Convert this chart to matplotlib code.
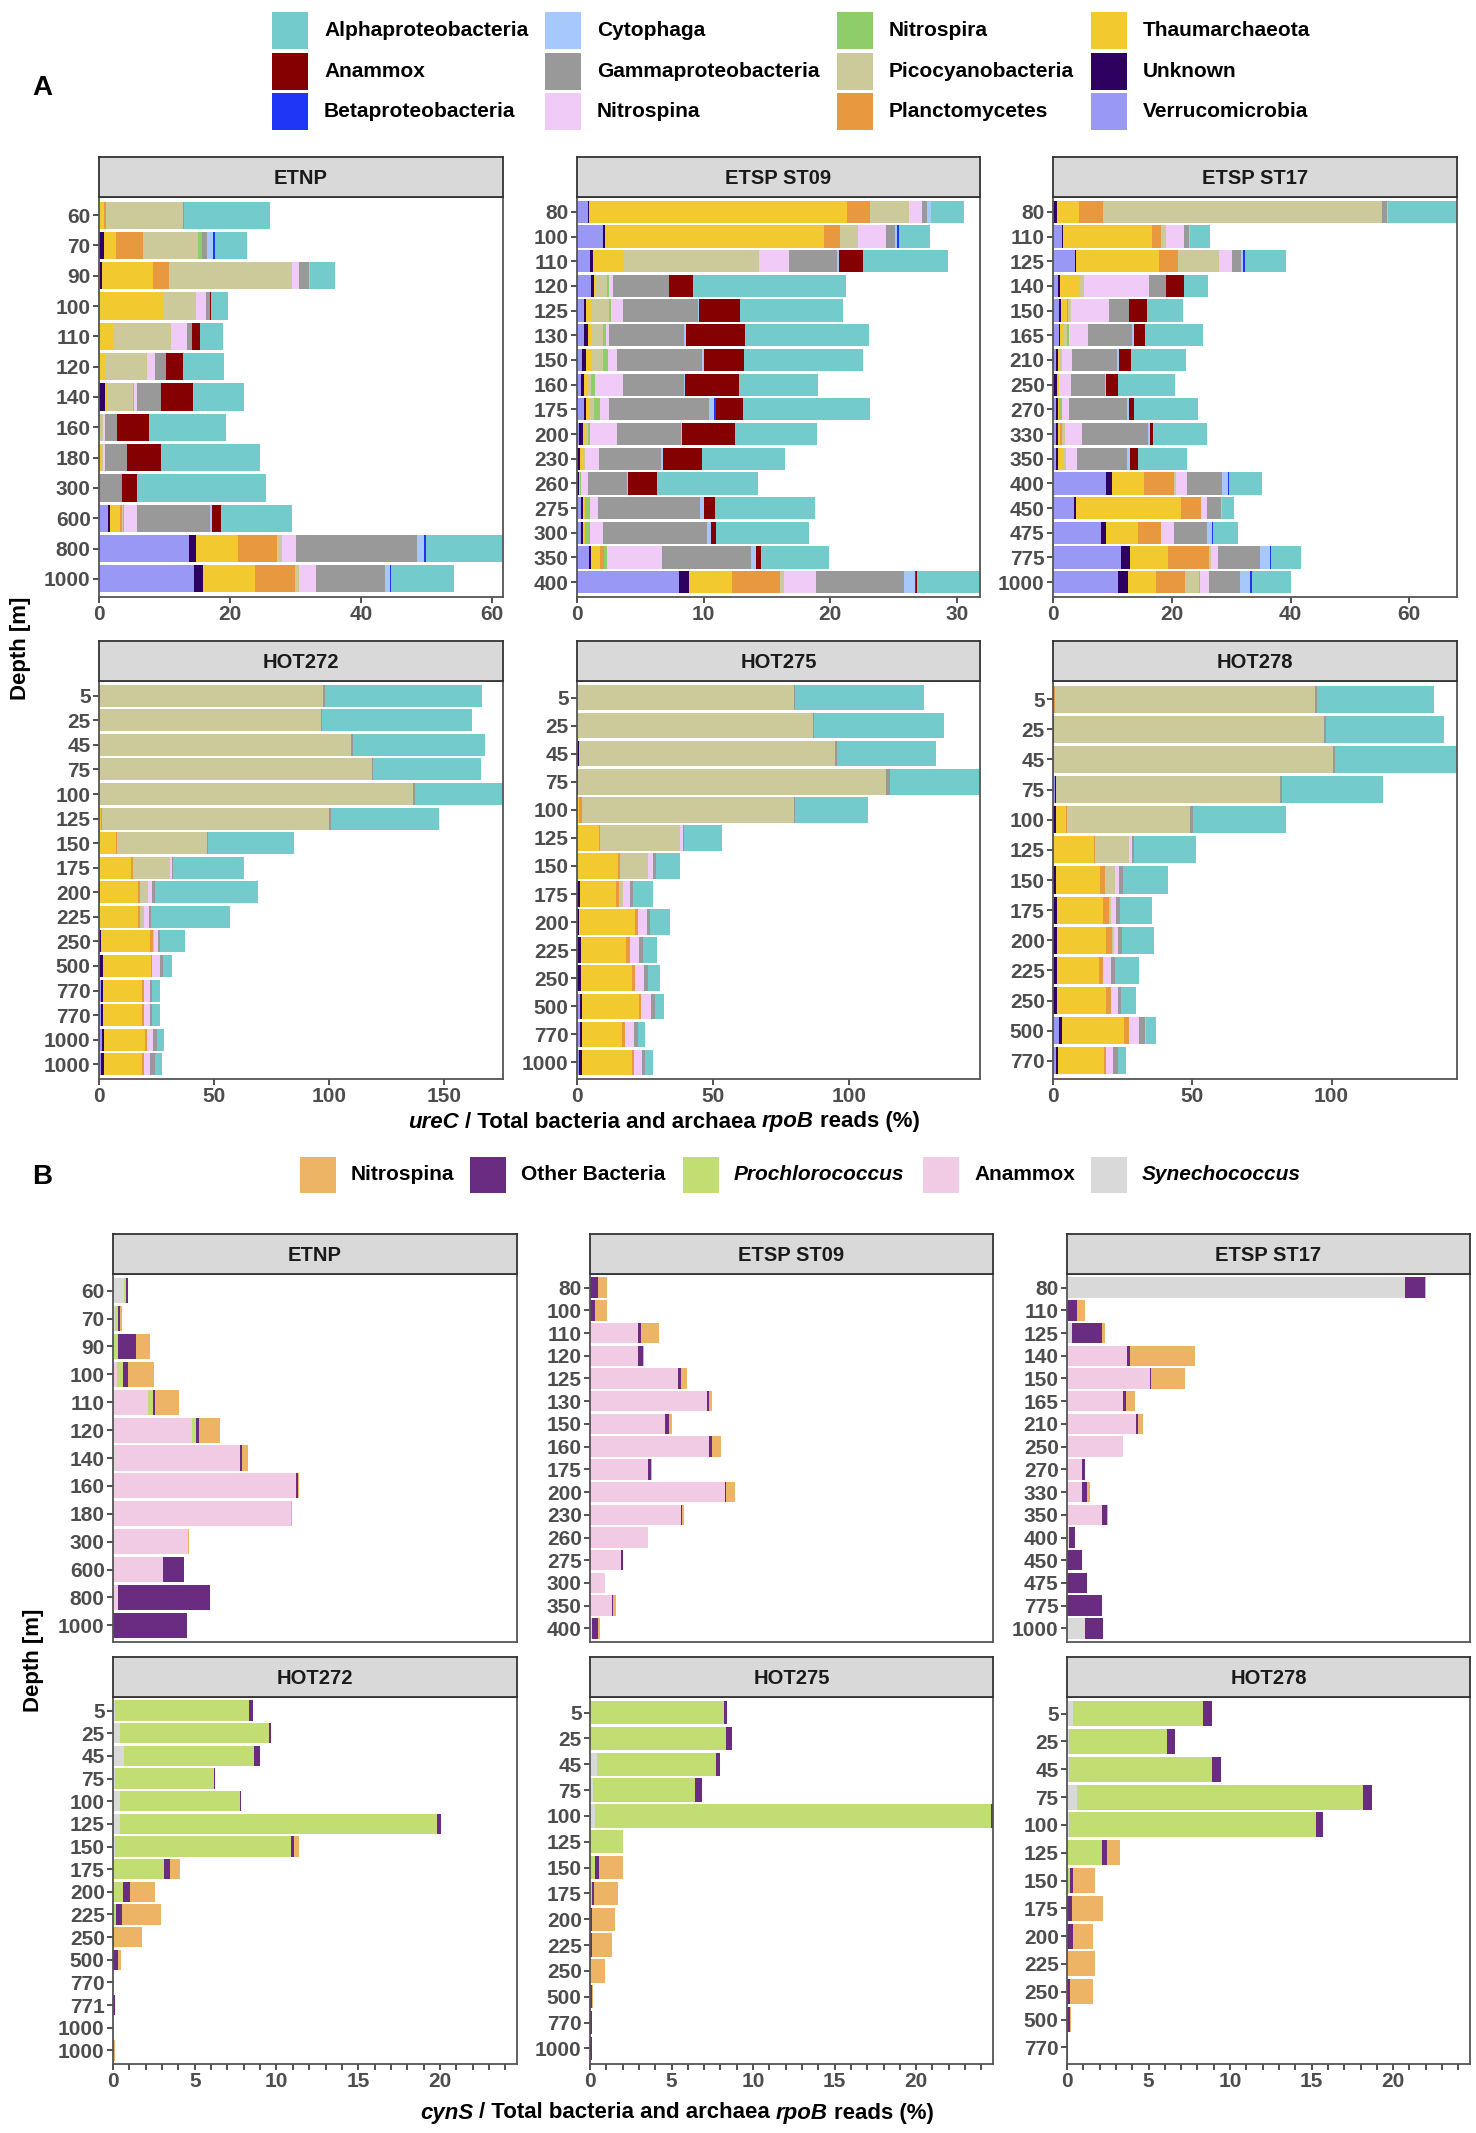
import numpy as np
import matplotlib
matplotlib.use("Agg")
import matplotlib.pyplot as plt
from matplotlib.patches import Rectangle

plt.rcParams['font.family'] = ['Liberation Sans', 'DejaVu Sans']
plt.rcParams['font.weight'] = 'bold'

# ---------------- data: panel A (ureC) ----------------
# stacking order, left -> right
a_groups = ["Verrucomicrobia", "Unknown", "Thaumarchaeota", "Planctomycetes",
            "Picocyanobacteria", "Nitrospira", "Nitrospina", "Gammaproteobacteria",
            "Cytophaga", "Betaproteobacteria", "Anammox", "Alphaproteobacteria"]
a_colors = ["#9999F5", "#2E0060", "#F2C92F", "#E8983E", "#CCCA9A", "#8ECD6A",
            "#F0CBF8", "#999999", "#A6C8FA", "#2036F7", "#850000", "#74CBCB"]

etnp_depths = ["60", "70", "90", "100", "110", "120", "140", "160", "180", "300", "600", "800", "1000"]
etnp_ureC = [
    [0, 0, 0.7, 0.4, 11.65, 0, 0, 0.16, 0, 0, 0, 13.2],
    [0, 0.76, 1.78, 4.12, 8.5, 0.5, 0.1, 0.66, 1.0, 0.2, 0, 5.0],
    [0.2, 0.3, 7.8, 2.34, 18.8, 0, 1.07, 1.5, 0.15, 0, 0, 3.77],
    [0, 0, 9.8, 0, 5.04, 0, 1.53, 0.5, 0, 0, 0.2, 2.55],
    [0, 0, 2.34, 0, 8.7, 0, 2.44, 0.76, 0, 0, 1.12, 3.56],
    [0, 0, 0.97, 0, 6.31, 0, 1.32, 1.58, 0, 0, 2.65, 6.21],
    [0, 0.97, 0.25, 0, 3.97, 0.15, 0.46, 3.72, 0, 0, 4.83, 7.79],
    [0, 0, 0, 0, 0.6, 0, 0.35, 1.8, 0, 0, 4.88, 11.7],
    [0, 0, 0.3, 0, 0.35, 0, 0.3, 3.36, 0, 0, 5.14, 15.06],
    [0, 0, 0, 0, 0, 0, 0, 3.56, 0, 0, 2.19, 19.7],
    [1.32, 0.3, 1.63, 0.25, 0.2, 0.15, 2.0, 11.04, 0.4, 0, 1.37, 10.84],
    [13.74, 1.12, 6.41, 5.9, 0.8, 0, 2.14, 18.42, 1.0, 0.3, 0, 11.8],
    [14.55, 1.37, 7.94, 6.0, 0.6, 0, 2.7, 10.43, 0.76, 0.25, 0, 9.6],
]

st09_depths = ["80", "100", "110", "120", "125", "130", "150", "160", "175", "200",
               "230", "260", "275", "300", "350", "400"]
st09_ureC = [
    [0.84, 0.1, 20.42, 1.79, 3.1, 0, 1.0, 0.42, 0.26, 0, 0, 2.63],
    [2.05, 0.13, 17.3, 1.26, 1.42, 0, 2.23, 0.74, 0.18, 0.16, 0, 2.42],
    [1.05, 0.18, 2.45, 0.05, 10.63, 0, 2.42, 3.74, 0.16, 0, 1.89, 6.71],
    [1.1, 0.21, 0.1, 0, 0.95, 0.18, 0.29, 4.45, 0, 0, 1.87, 12.1],
    [0.53, 0.21, 0.37, 0, 1.45, 0.16, 0.92, 5.89, 0.13, 0, 3.18, 8.13],
    [0.53, 0.32, 0.26, 0, 0.92, 0.29, 0.21, 5.95, 0.1, 0, 4.66, 9.82],
    [0.42, 0.32, 0.45, 0, 0.87, 0.37, 0.74, 6.74, 0.16, 0, 3.1, 9.4],
    [0.34, 0.18, 0.32, 0, 0.26, 0.32, 2.24, 4.76, 0.13, 0, 4.21, 6.26],
    [0.53, 0.21, 0.26, 0, 0.37, 0.47, 0.71, 7.89, 0.42, 0.13, 2.16, 10.0],
    [0.16, 0.29, 0.29, 0, 0.1, 0.21, 2.08, 5.05, 0.1, 0, 4.16, 6.5],
    [0, 0.26, 0.21, 0, 0.18, 0, 1.08, 4.87, 0.16, 0, 3.1, 6.58],
    [0, 0.16, 0.1, 0, 0, 0.08, 0.5, 3.1, 0.1, 0, 2.26, 8.03],
    [0.34, 0.16, 0.16, 0, 0, 0.34, 0.63, 8.1, 0.29, 0, 0.89, 7.92],
    [0.34, 0.1, 0.21, 0, 0, 0.34, 1.05, 8.21, 0.32, 0, 0.37, 7.39],
    [0.95, 0.18, 0.71, 0.32, 0, 0.18, 4.39, 7.03, 0.39, 0, 0.39, 5.39],
    [8.05, 0.79, 3.42, 3.79, 0.32, 0, 2.47, 6.95, 0.89, 0.1, 0.1, 4.95],
]

st17_depths = ["80", "110", "125", "140", "150", "165", "210", "250", "270", "330",
               "350", "400", "450", "475", "775", "1000"]
st17_ureC = [
    [0, 0.62, 3.76, 4.04, 47.0, 0, 0, 0.84, 0.22, 0, 0, 11.55],
    [1.46, 0.17, 15.08, 1.46, 0.79, 0, 3.14, 0.79, 0.17, 0, 0, 3.31],
    [3.76, 0.17, 13.85, 3.2, 6.9, 0, 2.19, 1.63, 0.34, 0.28, 0, 6.95],
    [0.9, 0.28, 3.25, 0, 0.84, 0, 10.94, 2.8, 0, 0, 2.97, 4.2],
    [1.07, 0.28, 0.95, 0.22, 0.56, 0, 6.28, 3.48, 0, 0, 3.03, 6.0],
    [0.95, 0.28, 0.62, 0, 0.45, 0.34, 3.31, 7.4, 0.28, 0, 1.79, 9.81],
    [0.5, 0.34, 0.22, 0, 0.39, 0, 1.79, 7.57, 0.22, 0, 2.13, 9.25],
    [0, 0.62, 0.34, 0, 0, 0, 2.13, 5.61, 0.28, 0, 2.02, 9.53],
    [0.5, 0.28, 0.28, 0, 0, 0.39, 1.18, 9.87, 0.34, 0, 0.84, 10.77],
    [0.56, 0.34, 0.28, 0.39, 0.39, 0, 2.97, 11.05, 0.39, 0, 0.39, 9.14],
    [0.56, 0.34, 0.84, 0, 0.39, 0, 1.96, 8.41, 0.39, 0, 1.46, 8.19],
    [8.86, 1.01, 5.38, 5.16, 0.22, 0, 1.96, 5.89, 0.95, 0.17, 0, 5.66],
    [3.59, 0.28, 17.61, 3.37, 0, 0, 1.01, 2.36, 0.28, 0, 0, 1.96],
    [8.02, 0.9, 5.44, 3.87, 0, 0, 2.13, 5.55, 0.84, 0.22, 0, 4.26],
    [11.5, 1.46, 6.34, 7.01, 0.22, 0, 1.18, 7.12, 1.63, 0.28, 0, 4.94],
    [10.94, 1.63, 4.82, 4.88, 2.24, 0.17, 1.51, 5.38, 1.68, 0.28, 0, 6.62],
]

hot272_depths = ["5", "25", "45", "75", "100", "125", "150", "175", "200", "225", "250",
                 "500", "770", "770", "1000", "1000"]
hot272_ureC = [
    [0, 0, 0, 0.4, 97.0, 0, 0, 0.7, 0, 0, 0, 68.5],
    [0, 0, 0, 0.3, 96.1, 0, 0, 0.7, 0, 0, 0, 65.0],
    [0, 0, 0, 0.3, 109.4, 0, 0, 0.6, 0, 0, 0, 57.7],
    [0, 0, 0, 0.3, 118.3, 0, 0, 0.7, 0, 0, 0, 46.8],
    [0, 0, 0, 0, 136.7, 0, 0, 0.7, 0, 0, 0, 38.3],
    [0, 0, 0.7, 0.7, 98.6, 0, 0, 0.9, 0, 0, 0, 46.8],
    [0, 0, 7.25, 0.7, 38.9, 0, 0, 0.7, 0, 0, 0, 37.3],
    [0, 0, 13.9, 0.7, 16.1, 0, 1.16, 0.4, 0, 0, 0, 30.6],
    [0, 0.6, 16.5, 0.9, 3.2, 0, 1.74, 1.3, 0, 0, 0, 44.9],
    [0, 0, 16.8, 1.16, 1.45, 0, 2.17, 1.16, 0, 0, 0, 34.1],
    [0, 0.7, 21.6, 1.16, 0.4, 0, 1.74, 0.87, 0, 0, 0, 11.0],
    [0.6, 1.0, 20.9, 0.6, 0, 0, 3.33, 1.6, 0, 0, 0, 3.77],
    [0.87, 1.0, 17.0, 0.6, 0, 0, 2.6, 1.16, 0, 0, 0, 3.19],
    [0.87, 1.0, 17.0, 0.6, 0, 0, 2.6, 1.16, 0, 0, 0, 3.19],
    [1.16, 1.0, 17.7, 0.87, 0, 0, 2.75, 1.9, 0, 0, 0, 2.75],
    [0.87, 1.3, 16.7, 0.6, 0, 0, 2.9, 1.9, 0, 0, 0, 3.19],
]

hot275_depths = ["5", "25", "45", "75", "100", "125", "150", "175", "200", "225", "250",
                 "500", "770", "1000"]
hot275_ureC = [
    [0, 0, 0, 0, 79.6, 0, 0, 0.6, 0, 0, 0, 47.3],
    [0, 0, 0, 0, 86.6, 0, 0, 0.6, 0, 0, 0, 47.5],
    [0, 0.6, 0, 0, 94.3, 0, 0, 0.7, 0, 0, 0, 36.2],
    [0, 0.4, 0, 0, 113.2, 0, 0, 1.2, 0, 0, 0, 33.2],
    [0, 0, 0.6, 1.1, 77.9, 0, 0, 0.6, 0, 0, 0, 26.6],
    [0, 0, 8.07, 0.5, 29.2, 0, 1.1, 0.6, 0, 0, 0, 13.8],
    [0, 0, 14.9, 1.0, 10.3, 0, 1.7, 1.0, 0, 0, 0, 9.05],
    [0, 1.2, 13.0, 1.3, 1.5, 0, 2.6, 0.9, 0, 0, 0, 7.45],
    [0, 0.9, 20.4, 1.2, 0, 0, 3.3, 0.9, 0, 0, 0, 7.3],
    [0.2, 1.2, 16.7, 1.5, 0, 0, 3.2, 1.3, 0, 0, 0, 5.1],
    [0, 1.5, 18.6, 1.2, 0, 0, 3.2, 1.5, 0, 0, 0, 4.3],
    [1.1, 0.9, 20.7, 0.9, 0, 0, 3.5, 1.5, 0, 0, 0, 3.2],
    [1.1, 0.9, 14.5, 1.1, 0, 0, 3.2, 1.5, 0, 0, 0, 2.8],
    [0.9, 0.9, 18.3, 0.9, 0, 0, 2.7, 1.3, 0, 0, 0, 2.9],
]

hot278_depths = ["5", "25", "45", "75", "100", "125", "150", "175", "200", "225", "250",
                 "500", "770"]
hot278_ureC = [
    [0, 0, 0, 0.7, 93.3, 0, 0, 0.8, 0, 0, 0, 41.9],
    [0, 0.3, 0, 0, 96.9, 0, 0, 0.8, 0, 0, 0, 42.4],
    [0, 0, 0, 0.3, 100.1, 0, 0, 0.8, 0, 0, 0, 43.8],
    [0.7, 0.4, 0, 0, 80.2, 0, 0, 0.8, 0, 0, 0, 36.5],
    [0, 1.0, 3.5, 0.5, 44.2, 0, 0, 1.0, 0, 0, 0, 33.3],
    [0, 0, 14.6, 0.6, 12.0, 0, 1.0, 0.7, 0, 0, 0, 22.3],
    [0, 1.0, 16.0, 1.6, 3.5, 0, 1.7, 1.3, 0, 0, 0, 16.3],
    [0.5, 0.8, 16.5, 2.2, 0.8, 0, 1.9, 1.4, 0, 0, 0, 11.5],
    [0, 1.3, 17.8, 2.2, 0.5, 0, 1.7, 1.2, 0, 0, 0, 11.6],
    [0.5, 1.0, 14.9, 1.7, 0, 0, 2.6, 1.7, 0, 0, 0, 8.3],
    [0, 1.6, 17.6, 1.6, 0, 0, 2.4, 1.3, 0, 0, 0, 5.4],
    [2.3, 0.8, 22.4, 1.7, 0, 0, 3.8, 1.9, 0.5, 0, 0, 3.5],
    [1.0, 0.8, 16.4, 0.8, 0, 0, 2.5, 1.7, 0, 0, 0, 2.9],
]

# ---------------- data: panel B (cynS) ----------------
b_groups = ["Synechococcus", "Anammox", "Prochlorococcus", "Other Bacteria", "Nitrospina"]
b_colors = ["#D9D9D9", "#F0CBE3", "#C2DE72", "#6A2C80", "#EDB466"]

etnp_cynS = [
    [0.67, 0, 0.14, 0.1, 0], [0.1, 0, 0.18, 0.12, 0.12], [0, 0, 0.33, 1.1, 0.82],
    [0, 0.22, 0.41, 0.29, 1.61], [0, 2.14, 0.29, 0.12, 1.49], [0, 4.86, 0.2, 0.2, 1.29],
    [0.16, 7.6, 0, 0.1, 0.39], [0, 11.19, 0, 0.1, 0.08], [0, 10.89, 0, 0, 0.08],
    [0, 4.58, 0, 0, 0.08], [0, 3.06, 0, 1.29, 0], [0, 0.33, 0, 5.62, 0], [0, 0, 0, 4.55, 0],
]
st09_cynS = [
    [0, 0, 0, 0.51, 0.51], [0, 0, 0, 0.33, 0.69], [0, 2.96, 0, 0.16, 1.12],
    [0, 2.96, 0, 0.27, 0.06], [0, 5.37, 0, 0.18, 0.39], [0, 7.19, 0, 0.08, 0.18],
    [0, 4.58, 0, 0.29, 0.16], [0, 7.27, 0, 0.18, 0.59], [0, 3.57, 0, 0.16, 0.1],
    [0, 8.27, 0, 0.08, 0.53], [0, 5.56, 0, 0.1, 0.1], [0, 3.53, 0, 0, 0],
    [0, 1.92, 0, 0.1, 0], [0, 0.94, 0, 0, 0], [0, 1.37, 0, 0.06, 0.18], [0, 0.12, 0, 0.39, 0.12],
]
st17_cynS = [
    [20.71, 0, 0, 1.23, 0.08], [0, 0, 0, 0.61, 0.51], [0.33, 0, 0, 1.82, 0.18],
    [0, 3.66, 0, 0.18, 4.0], [0, 5.07, 0, 0.1, 2.08], [0, 3.45, 0, 0.18, 0.51],
    [0, 4.25, 0, 0.08, 0.31], [0, 3.43, 0, 0, 0], [0, 0.94, 0, 0.18, 0],
    [0, 0.94, 0, 0.29, 0.2], [0, 2.14, 0, 0.29, 0.1], [0.12, 0, 0, 0.39, 0],
    [0, 0, 0, 0.92, 0], [0, 0, 0, 1.23, 0], [0, 0, 0, 2.14, 0], [1.12, 0, 0, 1.1, 0],
]
hot272b_depths = ["5", "25", "45", "75", "100", "125", "150", "175", "200", "225", "250",
                  "500", "770", "771", "1000", "1000"]
hot272_cynS = [
    [0.15, 0, 8.16, 0.23, 0], [0.4, 0, 9.14, 0.1, 0], [0.7, 0, 7.93, 0.35, 0],
    [0.15, 0, 6.0, 0.1, 0], [0.4, 0, 7.35, 0.1, 0], [0.4, 0, 19.39, 0.3, 0],
    [0.1, 0, 10.76, 0.23, 0.3], [0, 0, 3.13, 0.35, 0.64], [0, 0, 0.64, 0.4, 1.5],
    [0, 0, 0.17, 0.4, 2.37], [0, 0, 0, 0.05, 1.74], [0, 0, 0, 0.29, 0.17],
    [0, 0, 0, 0.02, 0], [0, 0, 0, 0.12, 0], [0, 0, 0, 0.02, 0], [0, 0, 0, 0, 0.1],
]
hot275_cynS = [
    [0, 0, 8.22, 0.17, 0], [0, 0, 8.33, 0.35, 0], [0.4, 0, 7.35, 0.23, 0],
    [0.2, 0, 6.25, 0.4, 0], [0.29, 0, 24.3, 0.12, 0], [0, 0, 2.03, 0, 0],
    [0, 0, 0.29, 0.29, 1.45], [0, 0, 0.1, 0.17, 1.45], [0, 0, 0, 0.12, 1.39],
    [0, 0, 0, 0.1, 1.27], [0, 0, 0, 0, 0.93], [0, 0, 0, 0.12, 0.06],
    [0, 0, 0, 0.15, 0], [0, 0, 0, 0.12, 0],
]
hot278_cynS = [
    [0.35, 0, 7.99, 0.58, 0], [0.1, 0, 6.02, 0.52, 0], [0.15, 0, 8.74, 0.58, 0],
    [0.64, 0, 17.48, 0.58, 0], [0.1, 0, 15.16, 0.46, 0], [0, 0, 2.14, 0.29, 0.81],
    [0, 0, 0.17, 0.17, 1.39], [0, 0, 0, 0.29, 1.91], [0, 0, 0, 0.35, 1.27],
    [0, 0, 0, 0, 1.74], [0, 0, 0, 0.17, 1.45], [0, 0, 0, 0.17, 0.06], [0, 0, 0, 0.04, 0],
]

# ---------------- figure ----------------
W, H = 1476, 2133
fig = plt.figure(figsize=(W / 100, H / 100), dpi=100)

TXT = "#4D4D4D"
LINE = "#333333"


def px_axes(l, t, r, b):
    return fig.add_axes([l / W, 1 - b / H, (r - l) / W, (b - t) / H])


def panel(box, title, depths, rows, colors, xmax, xticks, xlabels, show_x=True):
    l, t, r, b = box
    ax = px_axes(l, t, r, b)
    data = np.array(rows, dtype=float)
    y = np.arange(len(depths))
    left = np.zeros(len(depths))
    for j, c in enumerate(colors):
        ax.barh(y, data[:, j], left=left, height=0.9, color=c, linewidth=0)
        left += data[:, j]
    ax.set_ylim(len(depths) - 1 + 0.6, -0.6)
    ax.set_xlim(0, xmax)
    ax.set_yticks(y)
    ax.set_yticklabels(depths)
    ax.set_xticks(xticks)
    ax.set_xticklabels(xlabels)
    for s in ax.spines.values():
        s.set_color("#555555")
        s.set_linewidth(1.3)
    ax.tick_params(length=4, width=1.2, color=LINE, labelcolor=TXT,
                   labelsize=15, pad=2)
    if not show_x:
        ax.tick_params(axis="x", bottom=False, labelbottom=False)
    # strip
    st = px_axes(l, t - 40, r, t)
    st.set_facecolor("#D9D9D9")
    st.set_xticks([])
    st.set_yticks([])
    for s in st.spines.values():
        s.set_color(LINE)
        s.set_linewidth(1.3)
    st.text(0.5, 0.47, title, ha="center", va="center", fontsize=14.5,
            color="#1A1A1A", transform=st.transAxes)
    return ax


def rich(x, y, parts, size):
    r = fig.canvas.get_renderer()
    probe1 = fig.text(0, 0, "x x", fontsize=size)
    probe2 = fig.text(0, 0, "xx", fontsize=size)
    gap = probe1.get_window_extent(r).width - probe2.get_window_extent(r).width
    probe1.remove()
    probe2.remove()
    texts, widths = [], []
    for s, style in parts:
        tt = fig.text(0, 0, s, fontsize=size, style=style, ha="left", va="center",
                      color="black")
        texts.append(tt)
        widths.append(tt.get_window_extent(r).width)
    total = sum(widths) + gap * (len(parts) - 1)
    x0 = x - total / 2
    for tt, w in zip(texts, widths):
        tt.set_position((x0 / W, 1 - y / H))
        x0 += w + gap


cols_a = [(99, 503), (577, 980), (1053, 1457)]
top_a, bot_a = (197, 597), (681, 1079)

a_panels = [
    ("ETNP", etnp_depths, etnp_ureC, [0, 20, 40, 60]),
    ("ETSP ST09", st09_depths, st09_ureC, [0, 10, 20, 30]),
    ("ETSP ST17", st17_depths, st17_ureC, [0, 20, 40, 60]),
    ("HOT272", hot272_depths, hot272_ureC, [0, 50, 100, 150]),
    ("HOT275", hot275_depths, hot275_ureC, [0, 50, 100]),
    ("HOT278", hot278_depths, hot278_ureC, [0, 50, 100]),
]
for i, (name, dep, rows, xt) in enumerate(a_panels):
    cl, cr = cols_a[i % 3]
    rt, rb = top_a if i < 3 else bot_a
    xmax = np.array(rows).sum(axis=1).max()
    panel((cl, rt, cr, rb), name, dep, rows, a_colors, xmax, xt, [str(v) for v in xt])

# panel B
cols_b = [(113, 517), (590, 993), (1067, 1470)]
top_b, bot_b = (1274, 1642), (1697, 2064)
b_panels = [
    ("ETNP", etnp_depths, etnp_cynS),
    ("ETSP ST09", st09_depths, st09_cynS),
    ("ETSP ST17", st17_depths, st17_cynS),
    ("HOT272", hot272b_depths, hot272_cynS),
    ("HOT275", hot275_depths, hot275_cynS),
    ("HOT278", hot278_depths, hot278_cynS),
]
b_max = max(np.array(p[2]).sum(axis=1).max() for p in b_panels)
b_ticks = list(range(0, 25))
b_ticklabels = [str(v) if v % 5 == 0 else "" for v in b_ticks]
for i, (name, dep, rows) in enumerate(b_panels):
    cl, cr = cols_b[i % 3]
    rt, rb = top_b if i < 3 else bot_b
    panel((cl, rt, cr, rb), name, dep, rows, b_colors, b_max, b_ticks, b_ticklabels,
          show_x=(i >= 3))

# ---------------- legends ----------------
leg_a_x = [272, 545, 837, 1091]
leg_a_y = [12, 53, 93]
legend_a_order = ["Alphaproteobacteria", "Anammox", "Betaproteobacteria",
                  "Cytophaga", "Gammaproteobacteria", "Nitrospina",
                  "Nitrospira", "Picocyanobacteria", "Planctomycetes",
                  "Thaumarchaeota", "Unknown", "Verrucomicrobia"]
for k, name in enumerate(legend_a_order):
    cx, ry = leg_a_x[k // 3], leg_a_y[k % 3]
    col = a_colors[a_groups.index(name)]
    fig.patches.append(Rectangle((cx / W, 1 - (ry + 37) / H), 36 / W, 37 / H,
                                 transform=fig.transFigure, facecolor=col,
                                 edgecolor="none"))
    fig.text((cx + 52) / W, 1 - (ry + 18.5) / H, name, fontsize=15, va="center",
             ha="left", color="black")

leg_b_x = [300, 470, 683, 923, 1091]
legend_b_order = ["Nitrospina", "Other Bacteria", "Prochlorococcus", "Anammox", "Synechococcus"]
for k, name in enumerate(legend_b_order):
    cx = leg_b_x[k]
    col = b_colors[b_groups.index(name)]
    fig.patches.append(Rectangle((cx / W, 1 - 1193 / H), 36 / W, 36 / H,
                                 transform=fig.transFigure, facecolor=col,
                                 edgecolor="none"))
    sty = "italic" if name in ("Prochlorococcus", "Synechococcus") else "normal"
    fig.text((cx + 51) / W, 1 - 1175 / H, name, fontsize=15, va="center",
             ha="left", style=sty, color="black")

fig.text(42 / W, 1 - 88 / H, "A", fontsize=20, ha="center", va="center")
fig.text(42 / W, 1 - 1177 / H, "B", fontsize=20, ha="center", va="center")

# axis titles
fig.text(21 / W, 1 - 648 / H, "Depth [m]", rotation=90, fontsize=16,
         ha="center", va="center")
fig.text(33 / W, 1 - 1660 / H, "Depth [m]", rotation=90, fontsize=16,
         ha="center", va="center")
rich(664, 1122, [("ureC", "italic"), ("/ Total bacteria and archaea", "normal"),
                 ("rpoB", "italic"), ("reads (%)", "normal")], 16)
rich(677, 2113, [("cynS", "italic"), ("/ Total bacteria and archaea", "normal"),
                 ("rpoB", "italic"), ("reads (%)", "normal")], 16)

fig.savefig("out.png", dpi=100)
